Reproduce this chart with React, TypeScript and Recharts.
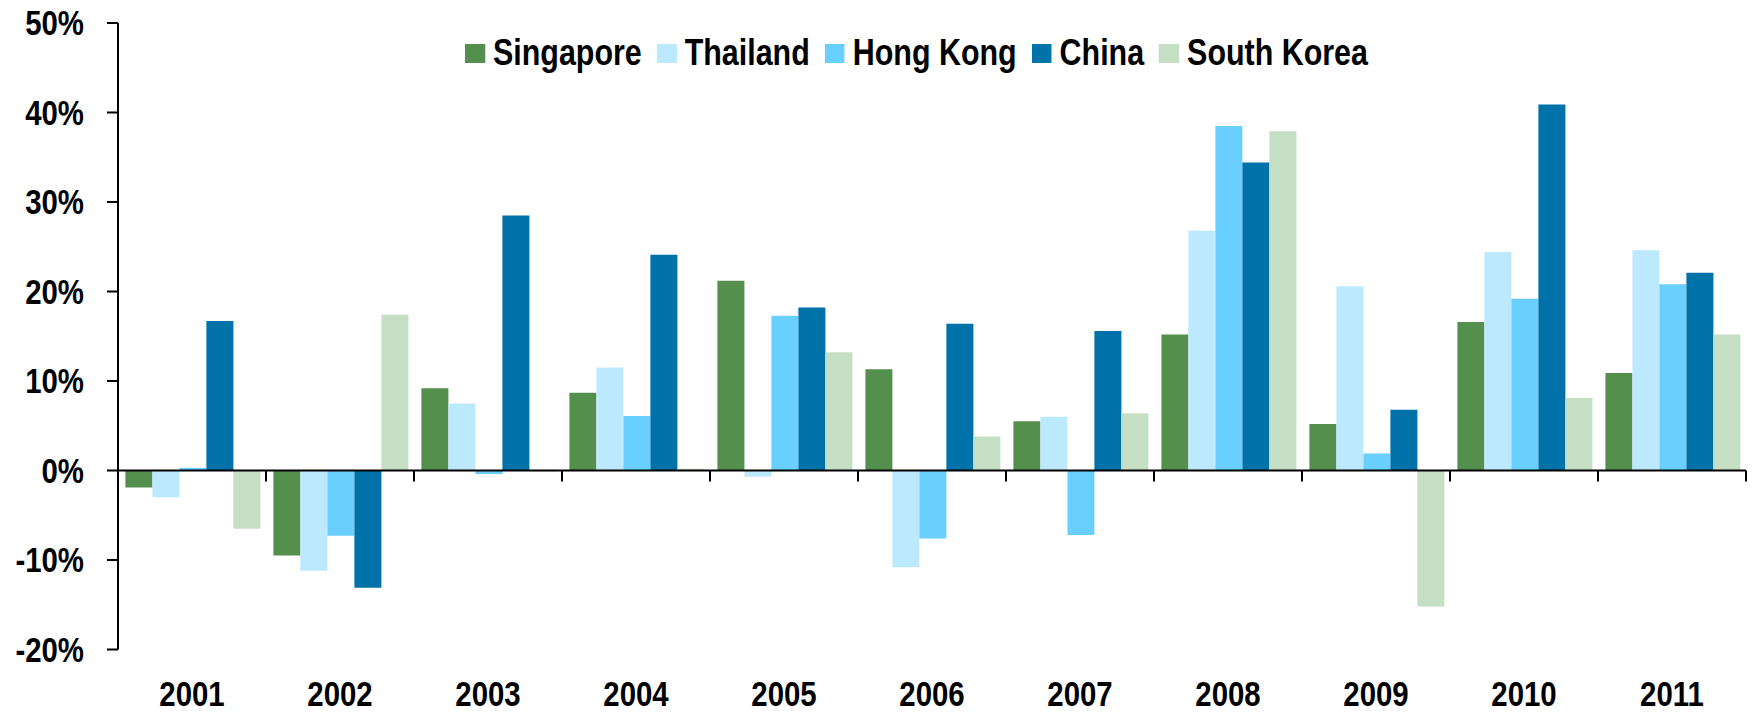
import React from 'react';
import { BarChart, Bar, XAxis, YAxis, ReferenceLine, Legend } from 'recharts';

const years = ['2001', '2002', '2003', '2004', '2005', '2006', '2007', '2008', '2009', '2010', '2011'];
const singapore = [-1.9, -9.5, 9.2, 8.7, 21.2, 11.3, 5.5, 15.2, 5.2, 16.6, 10.9];
const thailand = [-3.0, -11.2, 7.5, 11.5, -0.7, -10.8, 6.0, 26.8, 20.6, 24.4, 24.6];
const hongKong = [0.3, -7.3, -0.4, 6.1, 17.3, -7.6, -7.2, 38.5, 1.9, 19.2, 20.8];
const china = [16.7, -13.1, 28.5, 24.1, 18.2, 16.4, 15.6, 34.4, 6.8, 40.9, 22.1];
const southKorea = [-6.5, 17.4, -0.1, 0.2, 13.2, 3.8, 6.4, 37.9, -15.2, 8.1, 15.2];
const yTicks = [-20, -10, 0, 10, 20, 30, 40, 50];

const series = [
  { key: 'Singapore', values: singapore, color: '#548F4E' },
  { key: 'Thailand', values: thailand, color: '#BDE9FF' },
  { key: 'Hong Kong', values: hongKong, color: '#69CFFF' },
  { key: 'China', values: china, color: '#0072AA' },
  { key: 'South Korea', values: southKorea, color: '#C4DFC3' },
];

const data = years.map((y, i) => {
  const row: Record<string, any> = { year: y };
  series.forEach((s) => (row[s.key] = s.values[i]));
  return row;
});

const FONT = '"Liberation Sans", Arial, sans-serif';
const FS = 35;
const SX = 0.84;
const LFS = 36;
const LSX = 0.845;

const XTick = (props: any) => {
  const { x, y, payload } = props;
  return (
    <g transform={`translate(${x},${y})`}>
      <text x={0} y={0} dy="0.71em" textAnchor="middle" transform={`scale(${SX},1)`}
        style={{ fontFamily: FONT, fontWeight: 'bold', fontSize: FS }} fill="#000">
        {payload.value}
      </text>
    </g>
  );
};

const YTick = (props: any) => {
  const { x, y, payload } = props;
  return (
    <g transform={`translate(${x},${y})`}>
      <text x={0} y={0} dy="0.355em" textAnchor="end" transform={`scale(${SX},1)`}
        style={{ fontFamily: FONT, fontWeight: 'bold', fontSize: FS }} fill="#000">
        {`${payload.value}%`}
      </text>
    </g>
  );
};

const ZeroLine = (props: any) => {
  const { x1, y1, x2, y2 } = props;
  const n = years.length;
  const step = (x2 - x1) / n;
  const ticks = [];
  for (let i = 1; i <= n; i++) {
    const x = x1 + i * step;
    ticks.push(<line key={i} x1={x} x2={x} y1={y1} y2={y1 + 11} stroke="#000" strokeWidth={2} />);
  }
  return (
    <g>
      <line x1={x1} y1={y1} x2={x2} y2={y2} stroke="#000" strokeWidth={2} />
      {ticks}
    </g>
  );
};

const LegendContent = () => {
  return (
    <div style={{ display: 'flex', alignItems: 'center', height: LFS, fontFamily: FONT, fontWeight: 'bold', fontSize: LFS, lineHeight: `${LFS}px`, color: '#000', whiteSpace: 'nowrap', transform: `scaleX(${LSX})`, transformOrigin: 'left center' }}>
      {series.map((s) => (
        <div key={s.key} style={{ display: 'flex', alignItems: 'center', marginRight: 15 / LSX }}>
          <div style={{ width: 20 / LSX, height: 19, background: s.color, marginRight: 8 / LSX }} />
          <span>{s.key}</span>
        </div>
      ))}
    </div>
  );
};

export default function App() {
  return (
    <div style={{ position: 'absolute', left: 0, top: 0, background: '#fff' }}>
      <BarChart
        width={1754}
        height={713}
        data={data}
        margin={{ top: 23, right: 8, left: 0, bottom: 0 }}
        barCategoryGap="5%"
        barGap={0}
      >
        <XAxis
          dataKey="year"
          axisLine={false}
          tickLine={false}
          tickSize={0}
          tickMargin={32}
          height={63.5}
          interval={0}
          tick={<XTick />}
        />
        <YAxis
          domain={[-20, 50]}
          ticks={yTicks}
          width={118}
          interval={0}
          axisLine={{ stroke: '#000', strokeWidth: 2 }}
          tickLine={{ stroke: '#000', strokeWidth: 2 }}
          tickSize={11}
          tickMargin={23}
          tick={<YTick />}
        />
        <Legend
          layout="horizontal"
          verticalAlign="middle"
          align="center"
          content={<LegendContent />}
          wrapperStyle={{ top: 35, left: 465, width: 'auto', height: LFS }}
        />
        {series.map((s) => (
          <Bar key={s.key} dataKey={s.key} name={s.key} fill={s.color} isAnimationActive={false} />
        ))}
        <ReferenceLine y={0} shape={ZeroLine} />
      </BarChart>
    </div>
  );
}
